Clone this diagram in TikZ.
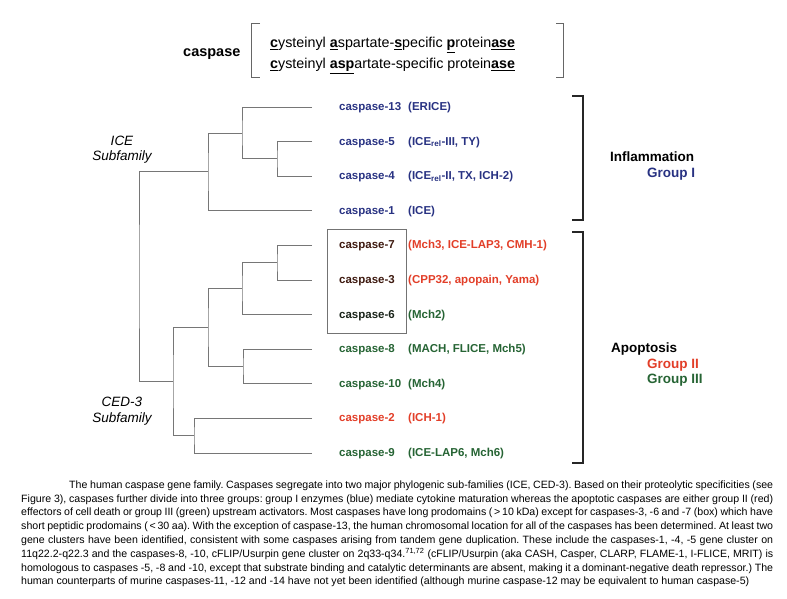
\documentclass[tikz,border=0pt]{standalone}
\usepackage{fontspec}
\setmainfont{Liberation Sans}
\definecolor{grpblue}{RGB}{40,50,130}
\definecolor{grpred}{RGB}{226,62,40}
\definecolor{grpgreen}{RGB}{38,100,52}
\definecolor{boxred}{RGB}{62,26,16}
\definecolor{boxgreen}{RGB}{26,36,26}
\definecolor{branchgray}{RGB}{118,118,118}
\tikzset{
	branch/.style={draw=branchgray, line width=0.9pt},
	bracket/.style={draw=black!85, line width=1.1pt},
	thinbracket/.style={draw=black!60, line width=0.8pt},
	leaf/.style={anchor=base west, inner sep=0pt, font=\fontsize{11.5}{13}\selectfont\bfseries},
	grouplabel/.style={anchor=base west, inner sep=0pt, font=\fontsize{13.5}{15}\selectfont\bfseries},
	subfam/.style={inner sep=0pt, align=center, font=\fontsize{13.5}{15.5}\selectfont\itshape},
	headline/.style={anchor=base west, inner sep=0pt, font=\fontsize{14.3}{16}\selectfont},
}
\begin{document}
\begin{tikzpicture}[x=1pt,y=-1pt]
		\useasboundingbox (0,0) rectangle (787,599);
		% header
		\node[headline, font=\fontsize{14.5}{16}\selectfont\bfseries] (csp) at (183,57) {caspase};
		\node[headline] (hd1) at (270,48) {\underline{\textbf{c}}ysteinyl \underline{\textbf{a}}spartate-\underline{\textbf{s}}pecific \underline{\textbf{p}}rotein\underline{\textbf{ase}}};
		\node[headline] (hd2) at (270,69) {\underline{\textbf{c}}ysteinyl \underline{\textbf{asp}}artate-specific protein\underline{\textbf{ase}}};
		\draw[thinbracket] (260,23) -- (251,23) -- (251,77) -- (260,77);
		\draw[thinbracket] (556,23) -- (563,23) -- (563,77) -- (556,77);
		% leaves
		\foreach \n/\i/\c/\s/\sc in {13/0/grpblue/{(ERICE)}/grpblue,
				5/1/grpblue/{(ICE\textsubscript{rel}-III, TY)}/grpblue,
				4/2/grpblue/{(ICE\textsubscript{rel}-II, TX, ICH-2)}/grpblue,
				1/3/grpblue/{(ICE)}/grpblue,
				7/4/boxred/{(Mch3, ICE-LAP3, CMH-1)}/grpred,
				3/5/boxred/{(CPP32, apopain, Yama)}/grpred,
				6/6/boxgreen/{(Mch2)}/grpgreen,
				8/7/grpgreen/{(MACH, FLICE, Mch5)}/grpgreen,
				10/8/grpgreen/{(Mch4)}/grpgreen,
				2/9/grpred/{(ICH-1)}/grpred,
				9/10/grpgreen/{(ICE-LAP6, Mch6)}/grpgreen}{
			\coordinate (e\n) at (312,107+34.6*\i);
			\node[leaf, text=\c] (c\n) at (339,110.5+34.6*\i) {caspase-\n};
			\node[leaf, text=\sc] (s\n) at (408,110.5+34.6*\i) {\s};
		}
		% tree
		\coordinate (j54) at (277,158.9);
		\coordinate (j13) at (242,133);
		\coordinate (j1) at (208,171.9);
		\coordinate (j73) at (277,262.7);
		\coordinate (j6) at (242,288.7);
		\coordinate (j810) at (243,366.5);
		\coordinate (jg) at (208,327.6);
		\coordinate (j29) at (194,435.7);
		\coordinate (jk) at (173,381.6);
		\coordinate (root) at (139,276.8);
		\draw[branch] (e5) -| (j54) |- (e4);
		\draw[branch] (e13) -| (j13) |- (j54);
		\draw[branch] (j13) -| (j1) |- (e1);
		\draw[branch] (e7) -| (j73) |- (e3);
		\draw[branch] (j73) -| (j6) |- (e6);
		\draw[branch] (e8) -| (j810) |- (e10);
		\draw[branch] (j6) -| (jg) |- (j810);
		\draw[branch] (e2) -| (j29) |- (e9);
		\draw[branch] (jg) -| (jk) |- (j29);
		\draw[branch] (j1) -| (root) |- (jk);
		\node[subfam] (ice) at (122,149.5) {ICE\\Subfamily};
		\node[subfam] (ced) at (122,411) {CED-3\\Subfamily};
		% box and groups
		\draw[draw=black!55, line width=0.7pt] (327,229) rectangle (406,333);
		\draw[bracket] (572,96) -- (583,96) -- (583,220) -- (572,220);
		\draw[bracket] (572,232) -- (583,232) -- (583,463) -- (572,463);
		\node[grouplabel] (infl) at (610,161) {Inflammation};
		\node[grouplabel, text=grpblue] (g1) at (647,177) {Group I};
		\node[grouplabel] (apo) at (611,352) {Apoptosis};
		\node[grouplabel, text=grpred] (g2) at (647,368) {Group II};
		\node[grouplabel, text=grpgreen] (g3) at (647,383) {Group III};
		% caption
		\node[anchor=north west, inner sep=0pt, text width=752pt, align=justify,
			font=\fontsize{10.6}{13.8}\selectfont] (cap) at (21,480.5) {\frenchspacing\tolerance=9999\hyphenpenalty=10000\emergencystretch=20pt
			\hspace*{48pt}The human caspase gene family. Caspases segregate into two major phylogenic sub-families (ICE, CED-3). Based on their proteolytic specificities (see\linebreak
			Figure 3), caspases further divide into three groups: group I enzymes (blue) mediate cytokine maturation whereas the apoptotic caspases are either group II (red)\linebreak
			effectors of cell death or group III (green) upstream activators. Most caspases have long prodomains (\,>\,10 kDa) except for caspases-3, -6 and -7 (box) which have\linebreak
			short peptidic prodomains (\,<\,30 aa). With the exception of caspase-13, the human chromosomal location for all of the caspases has been determined. At least two\linebreak
			gene clusters have been identified, consistent with some caspases arising from tandem gene duplication. These include the caspases-1, -4, -5 gene cluster on\linebreak
			11q22.2-q22.3 and the caspases-8, -10, cFLIP/Usurpin gene cluster on 2q33-q34.\textsuperscript{71,72} (cFLIP/Usurpin (aka CASH, Casper, CLARP, FLAME-1, I-FLICE, MRIT) is\linebreak
			homologous to caspases -5, -8 and -10, except that substrate binding and catalytic determinants are absent, making it a dominant-negative death repressor.) The\linebreak
			human counterparts of murine caspases-11, -12 and -14 have not yet been identified (although murine caspase-12 may be equivalent to human caspase-5)};
\end{tikzpicture}
\end{document}
